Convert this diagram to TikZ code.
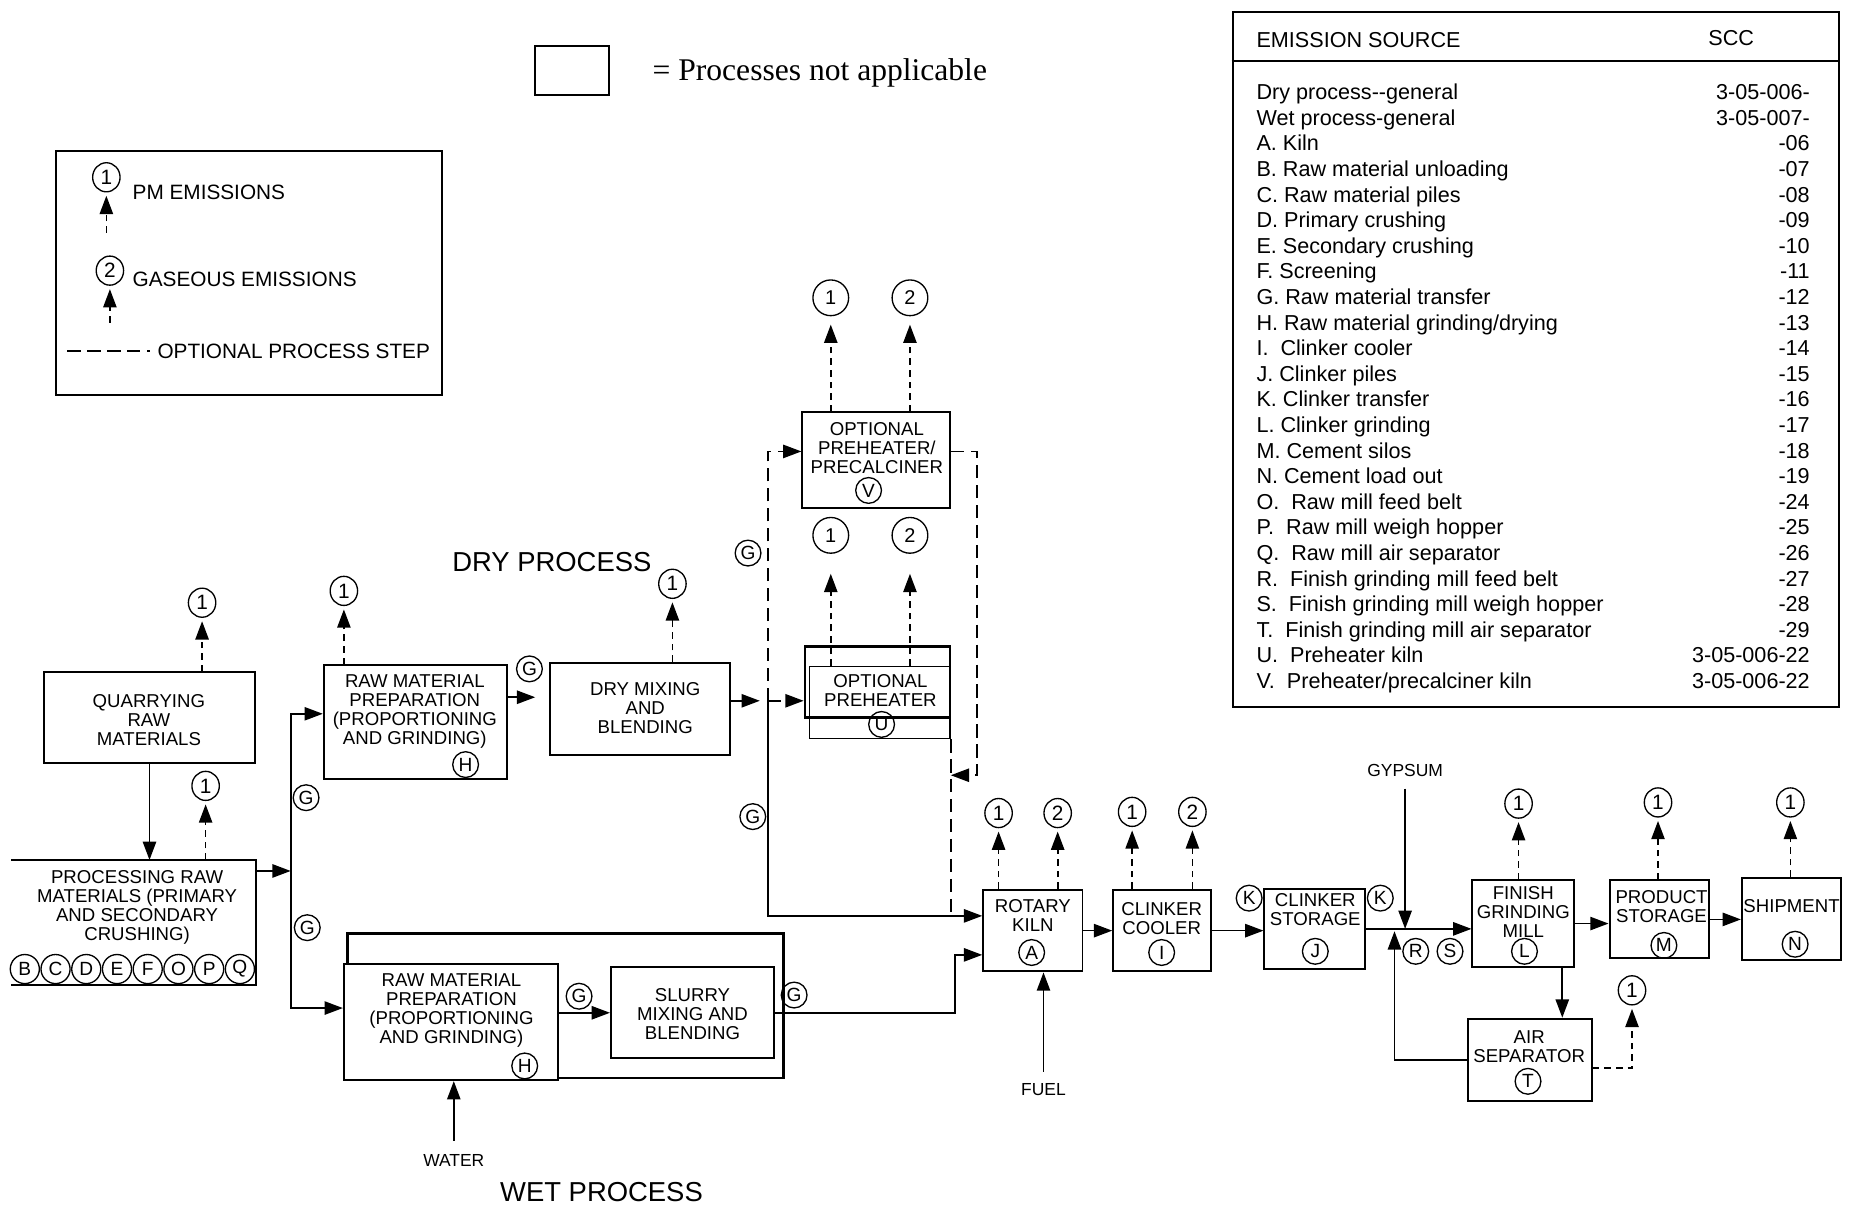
\documentclass[tikz,border=0pt]{standalone}
\usepackage{fontspec}
\setmainfont{Liberation Sans}
\newfontfamily\timesfont{Liberation Serif}
\usetikzlibrary{arrows.meta,fit,shapes.geometric}
\begin{document}
\begin{tikzpicture}[x=0.025cm,y=-0.025cm,
  box/.style={draw,line width=1.2pt,inner sep=0pt},
  txt/.style={align=center,inner sep=0pt,font=\fontsize{11.2}{11.4}\selectfont},
  note/.style={inner sep=0pt,font=\fontsize{10.5}{10.5}\selectfont},
  keytxt/.style={anchor=west,inner sep=0pt,font=\fontsize{12.5}{12.5}\selectfont},
  head/.style={inner sep=0pt,font=\fontsize{16.5}{16.5}\selectfont},
  lab/.style={draw,circle,line width=0.8pt,inner sep=0pt,minimum size=15.5pt,font=\fontsize{11.5}{11.5}\selectfont},
  emis/.style={draw,ellipse,line width=0.8pt,inner sep=0pt,minimum width=16.5pt,minimum height=17.5pt,font=\fontsize{12.5}{12.5}\selectfont},
  bigemis/.style={draw,circle,line width=0.8pt,inner sep=0pt,minimum size=21.5pt,font=\fontsize{12}{12}\selectfont},
  flow/.style={line width=1pt,-{Triangle[length=11pt,width=8pt]}},
  vent/.style={flow,dash pattern=on 4pt off 3pt,shorten >=2pt},
  opt/.style={line width=1pt,dash pattern=on 8pt off 4pt},
  optflow/.style={opt,-{Triangle[length=11pt,width=8pt]}}]
  \useasboundingbox (0,0) rectangle (1568,1021);

  % legend
  \node[box,fit={(453,39) (515,80)}] (napp) {};
  \node[anchor=west,inner sep=0pt,font=\timesfont\fontsize{19}{19}\selectfont] (nappt) at (552,62) {= Processes not applicable};
  \node[box,fit={(47,128) (374,334)}] (key) {};
  \node[emis] (k1) at (90,150) {1};
  \node[emis] (k2) at (93,229) {2};
  \coordinate (k1s) at (90,197);
  \coordinate (k2s) at (93,273);
  \coordinate (kd1) at (57,297);
  \coordinate (kd2) at (127,297);
  \node[keytxt] (k1t) at (112,163) {PM EMISSIONS};
  \node[keytxt] (k2t) at (112,236) {GASEOUS EMISSIONS};
  \node[keytxt] (kdt) at (133,297) {OPTIONAL PROCESS STEP};
  \draw[vent] (k1s) -- (k1);
  \draw[vent] (k2s) -- (k2);
  \draw[opt] (kd1) -- (kd2);

  % emission source table
  \node[box,fit={(1043,10) (1556,598)}] (tbl) {};
  \draw[line width=1.2pt] (tbl.west |- 0,52) -- (tbl.east |- 0,52);
  \node[anchor=west,inner sep=0pt,font=\fontsize{13}{13}\selectfont] (src) at (1063,34) {EMISSION SOURCE};
  \node[inner sep=0pt,font=\fontsize{13}{13}\selectfont] (scc) at (1465,32) {SCC};
  \node[anchor=north west,inner sep=0pt,font=\fontsize{13}{15.4}\selectfont] (rows) at (1063,69) {%
    \begin{tabular*}{11.7cm}{@{}l@{\extracolsep{\fill}}r@{}}
      Dry process{-}{-}general & 3-05-006-\\
      Wet process-general & 3-05-007-\\
      A. Kiln & -06\\
      B. Raw material unloading & -07\\
      C. Raw material piles & -08\\
      D. Primary crushing & -09\\
      E. Secondary crushing & -10\\
      F. Screening & -11\\
      G. Raw material transfer & -12\\
      H. Raw material grinding/drying & -13\\
      I.\ \ Clinker cooler & -14\\
      J. Clinker piles & -15\\
      K. Clinker transfer & -16\\
      L. Clinker grinding & -17\\
      M. Cement silos & -18\\
      N. Cement load out & -19\\
      O.\ \ Raw mill feed belt & -24\\
      P.\ \ Raw mill weigh hopper & -25\\
      Q.\ \ Raw mill air separator & -26\\
      R.\ \ Finish grinding mill feed belt & -27\\
      S.\ \ Finish grinding mill weigh hopper & -28\\
      T.\ \ Finish grinding mill air separator & -29\\
      U.\ \ Preheater kiln & 3-05-006-22\\
      V.\ \ Preheater/precalciner kiln & 3-05-006-22
    \end{tabular*}};

  % raw materials
  \node[box,fit={(37,569) (216,646)}] (quarry) {};
  \node[txt] (quarryt) at (126,609) {QUARRYING\\RAW\\MATERIALS};
  \node[emis] (e1) at (171,510) {1};
  \node[inner sep=0pt,fit={(10,728) (216,833)}] (proc) {};
  \draw[line width=1.2pt] (proc.north west) -- (proc.north east) -- (proc.south east) -- (proc.south west);
  \node[txt] (proct) at (116,768) {PROCESSING RAW\\MATERIALS (PRIMARY\\AND SECONDARY\\CRUSHING)};
  \node[emis] (e2) at (174,665) {1};
  \node[lab,minimum size=17.5pt] (tb) at (21,820) {B};
  \node[lab,minimum size=17.5pt] (tc) at (47,820) {C};
  \node[lab,minimum size=17.5pt] (td) at (73,820) {D};
  \node[lab,minimum size=17.5pt] (te) at (99,820) {E};
  \node[lab,minimum size=17.5pt] (tf) at (125,820) {F};
  \node[lab,minimum size=17.5pt] (to) at (151,820) {O};
  \node[lab,minimum size=17.5pt] (tp) at (177,820) {P};
  \node[lab,minimum size=17.5pt] (tq) at (203,820) {Q};
  \coordinate (j1) at (246,737);
  \node[lab] (g1) at (259,675) {G};
  \node[lab] (g2) at (260,785) {G};

  % dry process
  \node[head] (dry) at (467,476) {DRY PROCESS};
  \node[box,fit={(274,563) (429,659)}] (rmdry) {};
  \node[txt] (rmdryt) at (351,602) {RAW MATERIAL\\PREPARATION\\(PROPORTIONING\\AND GRINDING)};
  \node[lab] (hdry) at (394,647) {H};
  \node[emis] (e3) at (291,500) {1};
  \node[lab] (g3) at (448,566) {G};
  \node[box,fit={(465,561) (618,639)}] (dmix) {};
  \node[txt] (dmixt) at (546,599) {DRY MIXING\\AND\\BLENDING};
  \node[emis] (e4) at (569,494) {1};
  \coordinate (j2) at (650,593);
  \node[lab] (g4) at (633,468) {G};
  \node[lab] (g5) at (637,691) {G};

  % preheaters
  \node[box,fit={(679,349) (804,430)}] (ppc) {};
  \node[txt] (ppct) at (742,379) {OPTIONAL\\PREHEATER/\\PRECALCINER};
  \node[lab] (v) at (735,415) {V};
  \node[bigemis] (e5) at (703,252) {1};
  \node[bigemis] (e6) at (770,252) {2};
  \node[box,line width=1.4pt,fit={(681,547) (804,607)}] (ph) {};
  \node[box,line width=0.8pt,fit={(685,564) (804,625)}] (phin) {};
  \node[txt] (pht) at (745,584) {OPTIONAL\\PREHEATER};
  \node[lab] (u) at (746,613) {U};
  \node[bigemis] (e7) at (703,453) {1};
  \node[bigemis] (e8) at (770,453) {2};
  \coordinate (rt) at (827,656);

  % wet process
  \node[box,line width=1.4pt,fit={(294,790) (663,912)}] (wet) {};
  \node[box,fill=white,fit={(291,816) (472,914)}] (rmwet) {};
  \node[txt] (rmwett) at (382,855) {RAW MATERIAL\\PREPARATION\\(PROPORTIONING\\AND GRINDING)};
  \node[lab] (hwet) at (444,902) {H};
  \node[box,fit={(517,818) (655,895)}] (slurry) {};
  \node[txt] (slurryt) at (586,858) {SLURRY\\MIXING AND\\BLENDING};
  \node[lab] (g6) at (490,843) {G};
  \node[lab] (g7) at (672,842) {G};
  \coordinate (j3) at (808,857);
  \node[note] (water) at (384,982) {WATER};
  \node[head] (wetp) at (509,1009) {WET PROCESS};

  % kiln and finishing
  \node[box,fit={(832,753) (916,822)}] (kiln) {};
  \node[txt] (kilnt) at (874,775) {ROTARY\\KILN};
  \node[lab] (a) at (873,806) {A};
  \node[emis] (e9) at (845,688) {1};
  \node[emis] (e10) at (895,688) {2};
  \node[note] (fuel) at (883,922) {FUEL};
  \node[box,fit={(942,753) (1025,822)}] (cooler) {};
  \node[txt] (coolert) at (983,777) {CLINKER\\COOLER};
  \node[lab] (i) at (983,806) {I};
  \node[emis] (e11) at (958,687) {1};
  \node[emis] (e12) at (1009,687) {2};
  \node[box,fit={(1070,752) (1155,820)}] (cstore) {};
  \node[txt] (cstoret) at (1113,770) {CLINKER\\STORAGE};
  \node[lab] (j) at (1113,805) {J};
  \node[lab] (k1) at (1057,760) {K};
  \node[lab] (k2) at (1168,760) {K};
  \node[note] (gyp) at (1189,652) {GYPSUM};
  \node[lab] (r) at (1198,805) {R};
  \node[lab] (s) at (1227,805) {S};
  \coordinate (j4) at (1180,788);
  \node[box,fit={(1246,745) (1332,818)}] (fgm) {};
  \node[txt] (fgmt) at (1289,772) {FINISH\\GRINDING\\MILL};
  \node[lab] (l) at (1290,805) {L};
  \node[emis] (e13) at (1285,680) {1};
  \node[box,fit={(1242,862) (1347,932)}] (airsep) {};
  \node[txt] (airsept) at (1294,886) {AIR\\SEPARATOR};
  \node[lab] (t) at (1293,915) {T};
  \node[emis] (e14) at (1381,838) {1};
  \node[box,fit={(1362,745) (1446,811)}] (pstore) {};
  \node[txt] (pstoret) at (1406,767) {PRODUCT\\STORAGE};
  \node[lab] (m) at (1408,800) {M};
  \node[emis] (e15) at (1403,679) {1};
  \node[box,fit={(1474,743) (1558,812)}] (ship) {};
  \node[txt] (shipt) at (1516,767) {SHIPMENT};
  \node[lab] (n) at (1519,799) {N};
  \node[emis] (e16) at (1515,679) {1};

  % material flow
  \draw[flow] (quarry.south) -- (quarry.south |- proc.north);
  \draw[flow] (proc.east |- j1) -- (j1);
  \draw[flow] (j1) |- (rmdry.west |- 0,604);
  \draw[flow] (j1) |- (rmwet.west |- 0,853);
  \draw[flow,shorten >=8pt] (rmdry.east |- 0,590) -- (dmix.west |- 0,590);
  \draw[flow,shorten >=5pt] (dmix.east |- j2) -- (j2);
  \draw[optflow] (j2) -- (ph.west |- j2);
  \draw[optflow] (j2) |- (ppc.west |- 0,382);
  \draw[flow] (j2) |- (kiln.west |- 0,775);
  \draw[optflow] (ppc.east |- 0,382) -| (rt) -- (phin.east |- rt);
  \draw[opt] (phin.south east) -- (phin.south east |- 0,775);
  \draw[flow] (rmwet.east |- 0,857) -- (slurry.west |- 0,857);
  \draw[flow] (slurry.east |- j3) -- (j3) |- (kiln.west |- 0,808);
  \draw[flow] ([yshift=8pt]water.north) -- (water.north |- rmwet.south);
  \draw[flow] ([yshift=7pt]fuel.north) -- (fuel.north |- kiln.south);
  \draw[flow] (kiln) -- (cooler);
  \draw[flow] (cooler.east) -- (cstore.west |- cooler.east);
  \draw[flow] (cstore.east) -- (fgm.west |- cstore.east);
  \draw[flow] ([yshift=-7pt]gyp.south) -- (gyp.south |- cstore.east);
  \draw[flow] (fgm.south -| 1322,0) -- (airsep.north -| 1322,0);
  \draw[flow] (airsep.west |- 0,897) -| (j4);
  \draw[flow] (fgm.east) -- (pstore.west |- fgm.east);
  \draw[flow] (pstore.east) -- (ship.west |- pstore.east);

  % emissions
  \draw[vent] (quarry.north -| e1) -- (e1);
  \draw[vent] (proc.north -| e2) -- (e2);
  \draw[vent] (rmdry.north -| e3) -- (e3);
  \draw[vent] (dmix.north -| e4) -- (e4);
  \draw[vent,shorten >=5pt] (ppc.north -| e5) -- (e5);
  \draw[vent,shorten >=5pt] (ppc.north -| e6) -- (e6);
  \draw[vent,shorten >=12pt] (phin.north -| e7) -- (e7);
  \draw[vent,shorten >=12pt] (phin.north -| e8) -- (e8);
  \draw[vent] (kiln.north -| e9) -- (e9);
  \draw[vent] (kiln.north -| e10) -- (e10);
  \draw[vent] (cooler.north -| e11) -- (e11);
  \draw[vent] (cooler.north -| e12) -- (e12);
  \draw[vent] (fgm.north -| e13) -- (e13);
  \draw[vent] (airsep.east |- 0,904) -| (e14);
  \draw[vent] (pstore.north -| e15) -- (e15);
  \draw[vent] (ship.north -| e16) -- (e16);
\end{tikzpicture}
\end{document}
